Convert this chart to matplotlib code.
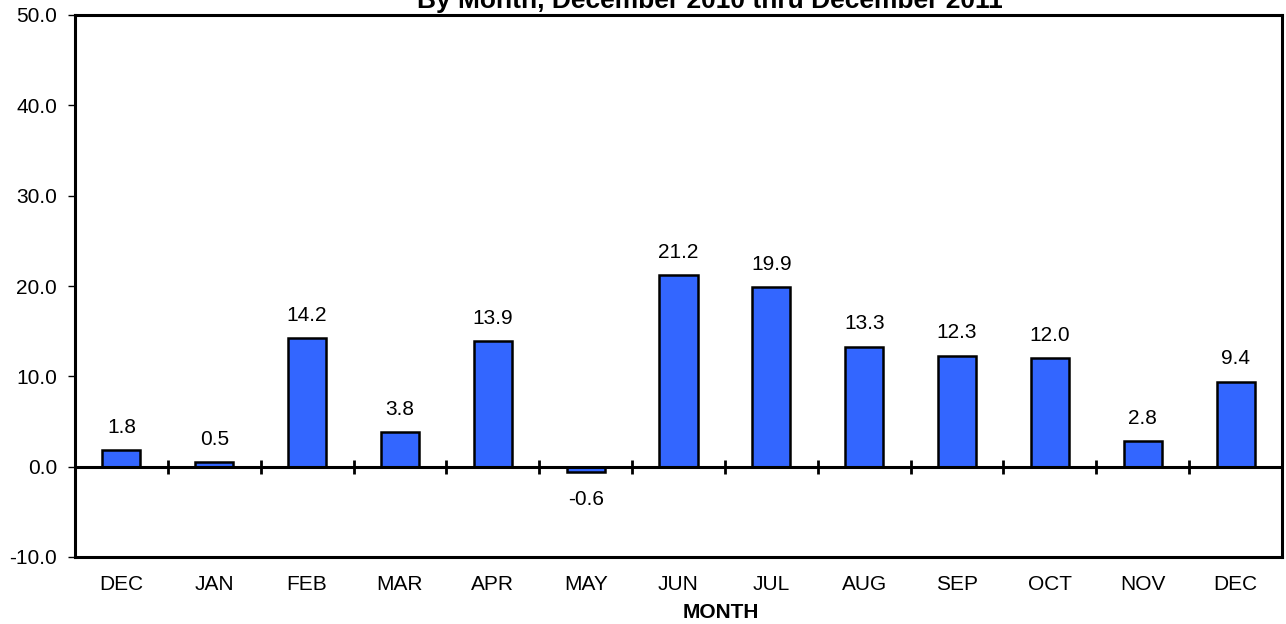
import numpy as np
import matplotlib
matplotlib.use("Agg")
import matplotlib.pyplot as plt

plt.rcParams["font.family"] = ["Liberation Sans", "DejaVu Sans"]

months = ["DEC", "JAN", "FEB", "MAR", "APR", "MAY", "JUN", "JUL", "AUG", "SEP", "OCT", "NOV", "DEC"]
values = [1.8, 0.5, 14.2, 3.8, 13.9, -0.6, 21.2, 19.9, 13.3, 12.3, 12.0, 2.8, 9.4]
yticks = [-10, 0, 10, 20, 30, 40, 50]
title = "By Month, December 2010 thru December 2011"

W, H = 1286, 624
fig = plt.figure(figsize=(W / 100, H / 100), dpi=100)
ax = fig.add_axes([75 / W, 1 - 557 / H, 1207 / W, 542 / H])

xs = np.arange(len(months))
ax.bar(xs, values, width=0.41, color="#3366FF", edgecolor="black", linewidth=1.8, zorder=3)

for x, v in zip(xs, values):
    if v >= 0:
        ax.annotate(f"{v:.1f}", (x, v), xytext=(0, 12.5), textcoords="offset points",
                    ha="center", va="baseline", fontsize=15)
    else:
        ax.annotate(f"{v:.1f}", (x, v), xytext=(0, -24), textcoords="offset points",
                    ha="center", va="baseline", fontsize=15)

# zero line with category separators
ax.axhline(0, color="black", linewidth=2.2, zorder=4)
bounds = xs[:-1] + 0.5
ax.plot(bounds, np.zeros(len(bounds)), linestyle="none", marker="|", markersize=9.5,
        markeredgewidth=2, color="black", zorder=4)

ax.set_xlim(-0.5, len(months) - 0.5)
ax.set_ylim(-10, 50)
ax.set_yticks(yticks)
ax.set_yticklabels([f"{t:.1f}" for t in yticks], fontsize=15)
ax.set_xticks(xs)
ax.set_xticklabels(months, fontsize=15)
ax.tick_params(axis="x", length=0, pad=13)
ax.tick_params(axis="y", length=5, width=1, direction="out", pad=8)
for s in ax.spines.values():
    s.set_linewidth(2.2)

fig.text(721 / W, 1 - 612 / H, "MONTH", ha="center", va="center", fontsize=15, fontweight="bold")
fig.text(710 / W, 1 - 8 / H, title, ha="center", va="baseline", fontsize=19, fontweight="bold")

fig.savefig("out.png", dpi=100)
